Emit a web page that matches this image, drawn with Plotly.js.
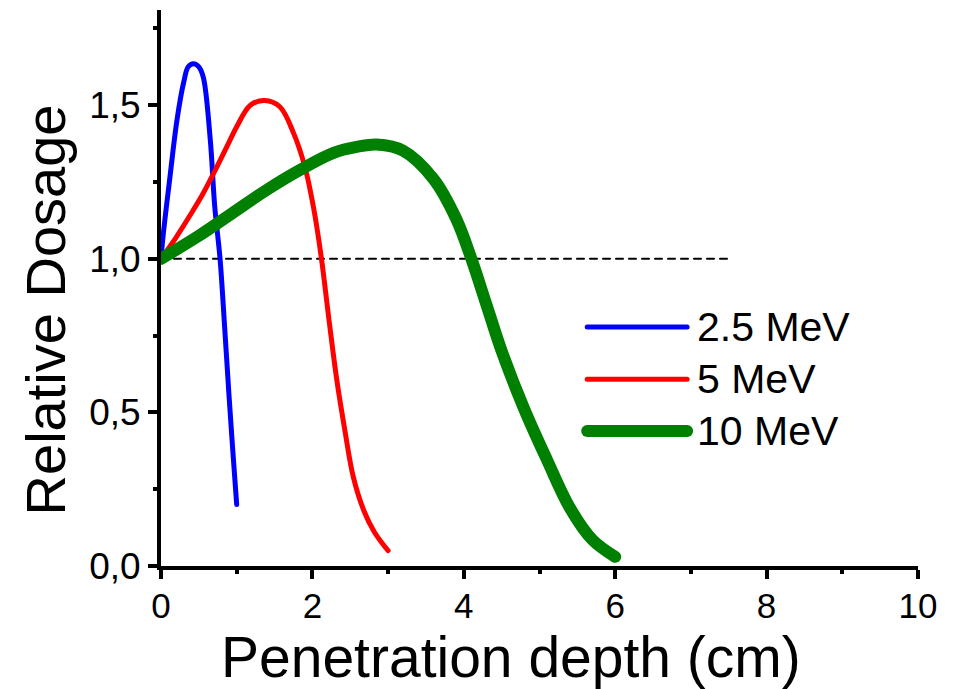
<!DOCTYPE html>
<html>
<head>
<meta charset="utf-8">
<script src="https://cdn.plot.ly/plotly-3.0.1.min.js"></script>
<style>
  html, body { margin: 0; padding: 0; background: #fff; }
  #chart { width: 962px; height: 689px; }
  .scatterlayer path.js-line { stroke-linecap: round; stroke-linejoin: round; }
  .shapelayer path { stroke-linecap: round; }
</style>
</head>
<body>
<div id="chart"></div>
<script>
// Depth-dose curves for three electron beam energies
const depth25 = [0, 0.03, 0.12, 0.21, 0.30, 0.36, 0.43, 0.50, 0.56, 0.65, 0.71, 0.78, 0.84, 0.90, 0.95, 1.0];
const dose25  = [1.0, 1.08, 1.27, 1.45, 1.575, 1.625, 1.635, 1.625, 1.59, 1.39, 1.17, 1.0, 0.78, 0.55, 0.37, 0.20];

const depth5 = [0, 0.2, 0.38, 0.55, 0.74, 0.88, 1.0, 1.18, 1.37, 1.57, 1.75, 1.9, 2.02, 2.12, 2.22, 2.32, 2.43, 2.54, 2.68, 2.82, 3.0];
const dose5  = [1.0, 1.07, 1.14, 1.21, 1.30, 1.37, 1.43, 1.50, 1.515, 1.495, 1.41, 1.30, 1.16, 1.0, 0.80, 0.61, 0.44, 0.29, 0.18, 0.11, 0.05];

const depth10 = [0, 0.5, 0.95, 1.4, 1.84, 2.28, 2.6, 2.85, 3.2, 3.6, 3.9, 4.1, 4.3, 4.5, 4.8, 5.1, 5.4, 5.7, 6.0];
const dose10  = [1.0, 1.075, 1.15, 1.225, 1.29, 1.345, 1.365, 1.372, 1.352, 1.26, 1.13, 1.0, 0.85, 0.70, 0.51, 0.345, 0.19, 0.085, 0.03];

const refDepth = [0, 7.5];
const refDose  = [1.0, 1.0];

const seriesNames  = ['2.5 MeV', '5 MeV', '10 MeV'];
const seriesColors = ['#0000ff', '#ff0000', '#008000'];
const seriesWidths = [5, 5, 12];

const xTicks = [0, 2, 4, 6, 8, 10];
const yTicks = [0, 0.5, 1.0, 1.5];

const xTitle = 'Penetration depth (cm)';
const yTitle = 'Relative Dosage';

const font = 'Liberation Sans, Arial, sans-serif';

const curves = [[depth25, dose25], [depth5, dose5], [depth10, dose10]];

const traces = [{
  x: refDepth, y: refDose, mode: 'lines', showlegend: false, hoverinfo: 'skip',
  line: { color: '#000', width: 2, dash: '7px,6px' }
}];
curves.forEach(([xs, ys], i) => {
  traces.push({
    x: xs, y: ys, mode: 'lines', name: seriesNames[i], showlegend: false,
    line: { color: seriesColors[i], width: seriesWidths[i], shape: 'spline', smoothing: 1 }
  });
});

// hand-built legend: long line samples with labels to their right
const legendY = [0.43, 0.336, 0.243];
const shapes = [];
const annotations = [];
seriesNames.forEach((name, i) => {
  shapes.push({
    type: 'line', xref: 'paper', yref: 'paper',
    x0: 0.563, x1: 0.695, y0: legendY[i], y1: legendY[i],
    line: { color: seriesColors[i], width: seriesWidths[i] }
  });
  annotations.push({
    xref: 'paper', yref: 'paper', x: 0.706, y: legendY[i],
    xanchor: 'left', yanchor: 'middle', showarrow: false,
    text: name, font: { family: font, size: 41, color: '#000' }
  });
});

// axis titles placed as annotations
annotations.push({
  xref: 'paper', yref: 'paper', x: 0.4624, y: -0.163,
  xanchor: 'center', yanchor: 'middle', showarrow: false,
  text: xTitle, font: { family: font, size: 57, color: '#000' }
});
annotations.push({
  xref: 'paper', yref: 'paper', x: -0.153, y: 0.46,
  xanchor: 'center', yanchor: 'middle', showarrow: false, textangle: -90,
  text: yTitle, font: { family: font, size: 56, color: '#000' }
});

const layout = {
  width: 962, height: 689,
  margin: { l: 161, r: 44, t: 10, b: 123 },
  paper_bgcolor: '#fff', plot_bgcolor: '#fff',
  separators: ',.',
  font: { family: font, color: '#000' },
  showlegend: false,
  xaxis: {
    range: [0, 10], tickvals: xTicks, ticktext: xTicks.map(String),
    showgrid: false, zeroline: false,
    showline: true, linecolor: '#000', linewidth: 4,
    ticks: 'outside', ticklen: 9, tickwidth: 4, tickcolor: '#000',
    minor: { tickvals: [1, 3, 5, 7, 9], ticks: 'outside', ticklen: 4, tickwidth: 4, tickcolor: '#000' },
    tickfont: { family: font, size: 35, color: '#000' },
    ticklabelstandoff: -3,
    automargin: false
  },
  yaxis: {
    range: [0, 1.81], tickvals: yTicks, tickformat: '.1f',
    showgrid: false, zeroline: false,
    showline: true, linecolor: '#000', linewidth: 4,
    ticks: 'outside', ticklen: 9, tickwidth: 4, tickcolor: '#000',
    minor: { tickvals: [0.25, 0.75, 1.25, 1.75], ticks: 'outside', ticklen: 4, tickwidth: 4, tickcolor: '#000' },
    tickfont: { family: font, size: 37, color: '#000' },
    automargin: false
  },
  shapes: shapes,
  annotations: annotations
};

Plotly.newPlot('chart', traces, layout, { staticPlot: true, displayModeBar: false });
</script>
</body>
</html>
